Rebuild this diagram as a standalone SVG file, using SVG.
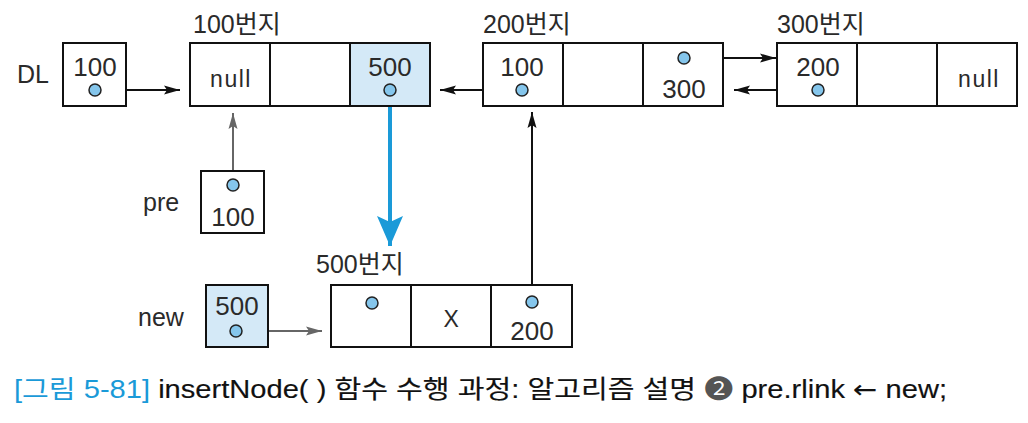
<svg xmlns="http://www.w3.org/2000/svg" width="1028" height="423" viewBox="0 0 1028 423">
<defs>
<style>
text{font-family:"Liberation Sans","Noto Sans CJK KR",sans-serif;fill:#2a2a2a}
.lbl{font-size:25px}
.num{font-size:26px;text-anchor:middle}
.nul{font-size:23px;text-anchor:middle;letter-spacing:1.5px}
.box{fill:#fff;stroke:#111;stroke-width:2}
.shade{fill:#d4e9f7;stroke:#111;stroke-width:2}
.div{stroke:#111;stroke-width:2}
.dot{fill:#85c6ec;stroke:#222;stroke-width:1.5}
.blk{stroke:#111;stroke-width:2;fill:none}
.gry{stroke:#666;stroke-width:2;fill:none}
.blu{stroke:#1a9ad8;stroke-width:4;fill:none}
.cap{font-size:25px;stroke-width:0.15px}
</style>
<marker id="ab" markerWidth="16" markerHeight="10" refX="16" refY="5" orient="auto" markerUnits="userSpaceOnUse"><path d="M0,0.5 L16,5 L0,9.5 L3,5 Z" fill="#111"/></marker>
<marker id="ag" markerWidth="16" markerHeight="10" refX="16" refY="5" orient="auto" markerUnits="userSpaceOnUse"><path d="M0,0.5 L16,5 L0,9.5 L3,5 Z" fill="#666"/></marker>
<marker id="au" markerWidth="30" markerHeight="28" refX="30" refY="14" orient="auto" markerUnits="userSpaceOnUse"><path d="M0,1 L30,14 L0,27 L6,14 Z" fill="#1a9ad8"/></marker>
</defs>

<g id="connectors">
<line class="blk" x1="95" y1="90" x2="180" y2="90" marker-end="url(#ab)"/>
<line class="blk" x1="522" y1="90" x2="440" y2="90" marker-end="url(#ab)"/>
<line class="blk" x1="684" y1="58" x2="776" y2="58" marker-end="url(#ab)"/>
<line class="blk" x1="818" y1="90" x2="734" y2="90" marker-end="url(#ab)"/>
<line class="gry" x1="233" y1="185" x2="233" y2="113" marker-end="url(#ag)"/>
<line class="gry" x1="236" y1="331" x2="322" y2="331" marker-end="url(#ag)"/>
<line class="blk" x1="532" y1="302" x2="532" y2="112" marker-end="url(#ab)"/>
<line class="blu" x1="390" y1="90" x2="390" y2="246" marker-end="url(#au)"/>
</g>

<g id="DL">
<text class="lbl" x="17" y="83">DL</text>
<rect class="box" x="63" y="43" width="63" height="63"/>
<text class="num" x="95" y="76">100</text>
<circle class="dot" cx="95" cy="90" r="6"/>
</g>

<g id="node100">
<text class="lbl" x="193" y="33">100번지</text>
<rect class="box" x="190" y="43" width="240" height="63"/>
<rect class="shade" x="350" y="43" width="80" height="63"/>
<line class="div" x1="270" y1="43" x2="270" y2="106"/>
<text class="nul" x="231" y="87">null</text>
<text class="num" x="390" y="76">500</text>
<circle class="dot" cx="390" cy="90" r="6"/>
</g>

<g id="node200">
<text class="lbl" x="483" y="33">200번지</text>
<rect class="box" x="483" y="43" width="240" height="63"/>
<line class="div" x1="563" y1="43" x2="563" y2="106"/>
<line class="div" x1="643" y1="43" x2="643" y2="106"/>
<text class="num" x="522" y="76">100</text>
<circle class="dot" cx="522" cy="90" r="6"/>
<circle class="dot" cx="684" cy="58" r="6"/>
<text class="num" x="684" y="98">300</text>
</g>

<g id="node300">
<text class="lbl" x="777" y="33">300번지</text>
<rect class="box" x="777" y="43" width="240" height="63"/>
<line class="div" x1="857" y1="43" x2="857" y2="106"/>
<line class="div" x1="937" y1="43" x2="937" y2="106"/>
<text class="num" x="818" y="76">200</text>
<circle class="dot" cx="818" cy="90" r="6"/>
<text class="nul" x="979" y="87">null</text>
</g>

<g id="pre">
<text class="lbl" x="143" y="211">pre</text>
<rect class="box" x="201" y="171" width="63" height="62"/>
<circle class="dot" cx="233" cy="185" r="6"/>
<text class="num" x="233" y="226">100</text>
</g>

<g id="new">
<text class="lbl" x="138" y="326">new</text>
<rect class="shade" x="206" y="285" width="62" height="62"/>
<text class="num" x="237" y="315">500</text>
<circle class="dot" cx="236" cy="331" r="6"/>
</g>

<g id="node500">
<text class="lbl" x="316" y="273">500번지</text>
<rect class="box" x="331" y="285" width="241" height="62"/>
<line class="div" x1="411" y1="285" x2="411" y2="347"/>
<line class="div" x1="491" y1="285" x2="491" y2="347"/>
<circle class="dot" cx="372" cy="303" r="6"/>
<text class="nul" x="452" y="327">X</text>
<circle class="dot" cx="532" cy="302" r="6"/>
<text class="num" x="532" y="340">200</text>
</g>

<g id="caption">
<text class="cap" x="14" y="398" textLength="933" lengthAdjust="spacingAndGlyphs"><tspan fill="#1a9ad8">[그림 5-81]</tspan><tspan fill="#111" stroke="#111"> insertNode( ) 함수 수행 과정: 알고리즘 설명 </tspan><tspan fill="#555">❷</tspan><tspan fill="#111" stroke="#111"> pre.rlink </tspan><tspan fill="#111" style="font-family:'DejaVu Sans',sans-serif">←</tspan><tspan fill="#111" stroke="#111"> new;</tspan></text>
</g>
</svg>
